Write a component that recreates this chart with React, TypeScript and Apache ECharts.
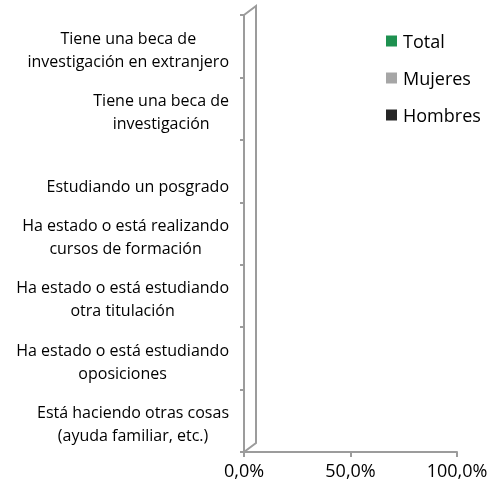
import React, { useEffect, useRef } from "react";
import * as echarts from "echarts";

const categories = [
  ["Tiene una beca de", "investigación en extranjero"],
  ["Tiene una beca de", "investigación"],
  ["", "Estudiando un posgrado"],
  ["Ha estado o está realizando", "cursos de formación"],
  ["Ha estado o está estudiando", "otra titulación"],
  ["Ha estado o está estudiando", "oposiciones"],
  ["Está haciendo otras cosas", "(ayuda familiar, etc.)"],
];
const seriesNames = ["Total", "Mujeres", "Hombres"];
const totalValues = [0, 0, 0, 0, 0, 0, 0];
const mujeresValues = [0, 0, 0, 0, 0, 0, 0];
const hombresValues = [0, 0, 0, 0, 0, 0, 0];

const colors = ["#1e9150", "#a6a6a6", "#262626"];
const FONT = "'Open Sans', sans-serif";
const AXIS = "#9c9c9c";

export default function App() {
  const ref = useRef<HTMLDivElement>(null);
  useEffect(() => {
    if (!ref.current) return;
    const chart = echarts.init(ref.current, undefined, { renderer: "svg" });
    const W = 503, H = 491;
    const gl = 244, gr = 46, gt = 15, gb = 39;
    const bottomY = H - gb;
    const dx = 12, dy = -9;
    chart.setOption({
      animation: false,
      textStyle: { fontFamily: FONT },
      color: colors,
      legend: {
        orient: "vertical",
        left: 381,
        top: 25,
        itemWidth: 11,
        itemHeight: 11,
        itemGap: 15,
        icon: "rect",
        data: seriesNames,
        textStyle: { fontSize: 18, color: "#000", fontFamily: FONT, lineHeight: 22, padding: [0, 0, 0, 1] },
      },
      grid: { left: gl, right: gr, top: gt, bottom: gb, containLabel: false },
      xAxis: {
        type: "value",
        min: 0,
        max: 100,
        interval: 50,
        splitLine: { show: false },
        axisLine: { show: true, lineStyle: { color: AXIS, width: 2 } },
        axisTick: { show: true, length: 5, lineStyle: { color: AXIS, width: 2 } },
        axisLabel: {
          fontSize: 18,
          color: "#000",
          margin: 9,
          fontFamily: FONT,
          formatter: (v: number) => v.toFixed(1).replace(".", ",") + "%",
        },
      },
      yAxis: {
        type: "category",
        inverse: true,
        data: categories.map((c) => c.join("\n")),
        axisLine: { show: true, lineStyle: { color: AXIS, width: 2 } },
        axisTick: { show: true, length: 4, lineStyle: { color: AXIS, width: 2 } },
        axisLabel: {
          margin: 15,
          fontSize: 16,
          color: "#000",
          fontFamily: FONT,
          lineHeight: 23,
          padding: [6, 0, 0, 0],
          formatter: (v: string) =>
            v
              .split("\n")
              .map((l) => (l ? "{c|" + l + "}" : "{c| }"))
              .join("\n"),
          rich: {
            c: { align: "center", fontSize: 16, lineHeight: 23, color: "#000", fontFamily: FONT },
          },
        },
      },
      series: [
        { name: seriesNames[0], type: "bar", data: totalValues },
        { name: seriesNames[1], type: "bar", data: mujeresValues },
        { name: seriesNames[2], type: "bar", data: hombresValues },
      ],
      graphic: [
        {
          type: "polyline",
          silent: true,
          shape: {
            points: [
              [gl, gt],
              [gl + dx, gt + dy],
              [gl + dx, bottomY + dy],
              [gl, bottomY],
            ],
          },
          style: { stroke: AXIS, lineWidth: 2, fill: "none" },
        },
      ],
    });
    return () => chart.dispose();
  }, []);
  return (
    <div
      ref={ref}
      style={{ position: "fixed", left: 0, top: 0, width: 503, height: 491 }}
    />
  );
}
